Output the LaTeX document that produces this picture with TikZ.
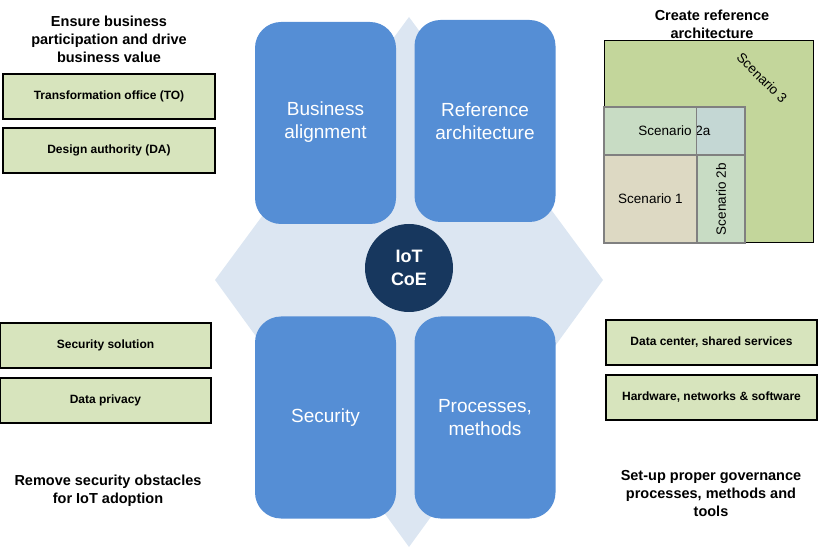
\documentclass[tikz,border=0pt]{standalone}
\usepackage{fontspec}
\setmainfont{Liberation Sans}
\usetikzlibrary{positioning}
\definecolor{pillarblue}{RGB}{85,142,213}
\definecolor{diamondblue}{RGB}{220,230,242}
\definecolor{coenavy}{RGB}{23,55,94}
\definecolor{taskgreen}{RGB}{215,228,189}
\definecolor{scenthree}{RGB}{195,214,155}
\definecolor{scenone}{RGB}{221,217,195}
\definecolor{scentwo}{RGB}{200,220,196}
\definecolor{scenmix}{RGB}{196,215,212}

\begin{document}
\begin{tikzpicture}[x=1pt,y=-1pt,
  pillar/.style={rectangle, rounded corners=26pt, fill=pillarblue, text=white,
    minimum width=141pt, minimum height=202pt, align=center,
    font=\fontsize{19}{23}\selectfont},
  task/.style={rectangle, draw=black, line width=1.3pt, fill=taskgreen,
    minimum width=211pt, minimum height=45pt,
    font=\bfseries\fontsize{12}{14}\selectfont},
  goal/.style={align=center, font=\bfseries\fontsize{14.5}{18}\selectfont},
  cell/.style={rectangle, draw=black!50, line width=1.2pt, inner sep=0pt,
    font=\fontsize{13.5}{16}\selectfont}]
\useasboundingbox (0,0) rectangle (820,548);

% centre
\fill[diamondblue] (215,280) -- (409,17) -- (603,280) -- (409,547) -- cycle;
\node[pillar, text depth=6pt] (busal) at (325.5,123) {Business\\alignment};
\node[pillar] (refarch) at (485,121) {Reference\\architecture};
\node[pillar] (secur) at (325.5,417.5) {Security};
\node[pillar] (procs) at (485,417.5) {Processes,\\methods};
\node[circle, fill=coenavy, text=white, minimum size=88pt, align=center,
  font=\bfseries\fontsize{18}{23}\selectfont] (coe) at (409,268) {IoT\\CoE};

% top left
\node[goal] (ensure) at (109,39) {Ensure business\\participation and drive\\business value};
\node[task, minimum width=212pt] (tooffice) at (109,96.5) {Transformation office (TO)};
\node[task, minimum width=212pt] (dauth) at (109,150.5) {Design authority (DA)};

% bottom left
\node[task] (secsol) at (105.5,345.5) {Security solution};
\node[task] (dpriv) at (105.5,400.5) {Data privacy};
\node[goal] (remove) at (108,491) {Remove security obstacles\\for IoT adoption};

% top right
\node[goal] (create) at (712,24) {Create reference\\architecture};
\node[cell, draw=black, line width=1pt, fill=scenthree, minimum width=209pt,
  minimum height=202pt] (scen3) at (708.5,142) {};
\node[cell, fill=scentwo, minimum width=141pt, minimum height=48pt,
  path picture={\fill[scenmix] ([xshift=-48pt]path picture bounding box.north east)
    rectangle (path picture bounding box.south east);}] (scen2a) at (674.5,131) {Scenario 2a};
\node[cell, fill=scenone, minimum width=93pt, minimum height=88pt] (scen1) at (650.5,199) {Scenario 1};
\node[cell, fill=scentwo, minimum width=48pt, minimum height=88pt] (scen2b) at (721,199) {};
\draw[black!50, line width=1.2pt] (scen2b.north west) -- (scen2b.north west |- scen2a.north);
\node[cell, draw=none, rotate=90] at (scen2b) {Scenario 2b};
\node[cell, draw=none, rotate=-45] at (762,78) {Scenario 3};

% bottom right
\node[task] (dcentre) at (711.5,342.5) {Data center, shared services};
\node[task] (hwnet) at (711.5,397.5) {Hardware, networks \& software};
\node[goal] (setup) at (711,494) {Set-up proper governance\\processes, methods and\\tools};
\end{tikzpicture}
\end{document}
